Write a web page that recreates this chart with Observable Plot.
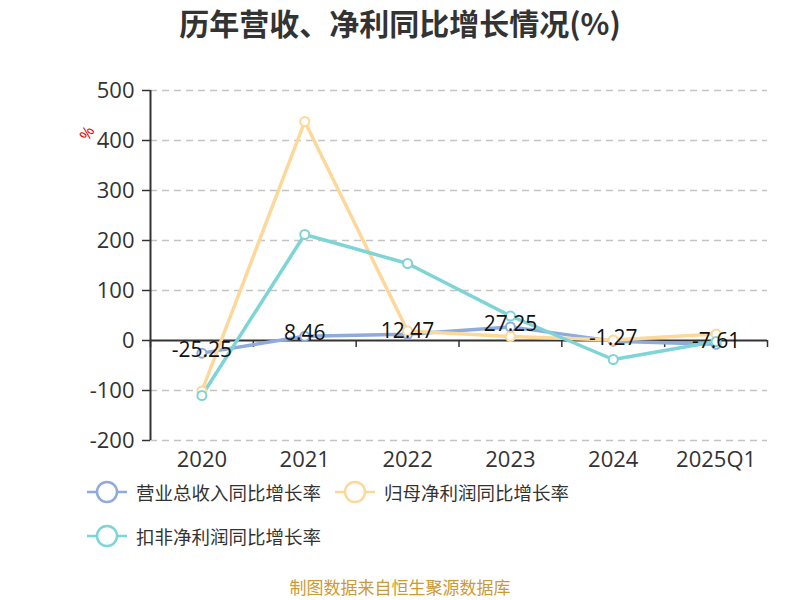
<!DOCTYPE html>
<html>
<head>
<meta charset="utf-8">
<script src="https://cdn.jsdelivr.net/npm/d3@7"></script>
<script src="https://cdn.jsdelivr.net/npm/@observablehq/plot@0.6"></script>
<style>
  body { margin: 0; background: #fff; }
  #wrap { position: relative; width: 800px; height: 600px; font-family: "Open Sans", "Noto Sans CJK SC", sans-serif; }
  #title { position: absolute; left: 0; top: 4px; width: 800px; text-align: center; font-family: "Noto Sans CJK SC", sans-serif; font-weight: bold; font-size: 30px; line-height: 36px; color: #333; }
  #chart { position: absolute; left: 0; top: 50px; }
  .leg { position: absolute; display: flex; align-items: center; font-family: "Noto Sans CJK SC", sans-serif; font-size: 18.5px; color: #333; }
  .leg svg { margin-right: 9px; }
  #caption { position: absolute; left: 0; top: 577px; width: 800px; text-align: center; font-family: "Noto Sans CJK SC", sans-serif; font-size: 17px; line-height: 20px; color: #cc9a33; }
  #unit { position: absolute; left: 80px; top: 122px; color: #e00; font-size: 16px; transform: rotate(-60deg); }
</style>
</head>
<body>
<div id="wrap">
  <div id="title">历年营收、净利同比增长情况(%)</div>
  <div id="chart"></div>
  <div id="unit">%</div>
  <div id="legend"></div>
  <div id="caption">制图数据来自恒生聚源数据库</div>
</div>
<script>
const categories = ["2020", "2021", "2022", "2023", "2024", "2025Q1"];
const revenueGrowth = [-25.25, 8.46, 12.47, 27.25, -1.27, -7.61];
const netProfitGrowth = [-101, 438, 19, 8, 1, 13];
const deductedProfitGrowth = [-110, 212, 154, 49, -38, -2];
const yTicks = [-200, -100, 0, 100, 200, 300, 400, 500];
const seriesNames = ["营业总收入同比增长率", "归母净利润同比增长率", "扣非净利润同比增长率"];
const seriesColors = ["#8eabdc", "#fdd89b", "#7fd4d6"];

const seriesValues = [revenueGrowth, netProfitGrowth, deductedProfitGrowth];
const rows = [];
seriesValues.forEach((vals, s) => vals.forEach((v, i) => rows.push({series: seriesNames[s], i, cat: categories[i], value: v})));
const revenueRows = rows.filter(d => d.series === seriesNames[0]);
const boundaries = d3.range(categories.length + 1).map(i => i - 0.5);

const plot = Plot.plot({
  width: 800,
  height: 430,
  marginLeft: 150,
  marginRight: 33,
  marginTop: 40,
  marginBottom: 40,
  style: {fontFamily: "'Open Sans', sans-serif", color: "#333", background: "transparent"},
  x: {type: "linear", domain: [-0.5, categories.length - 0.5]},
  y: {domain: [-200, 500]},
  color: {domain: seriesNames, range: seriesColors},
  marks: [
    Plot.gridY(yTicks.filter(t => t !== 0), {stroke: "#c4c4c4", strokeOpacity: 1, strokeWidth: 1.5, strokeDasharray: "7,5"}),
    Plot.axisY({ticks: yTicks, tickFormat: d => String(d), tickSize: 8, tickPadding: 8, fontSize: 22, stroke: "#333", strokeWidth: 1.5, fill: "#333", label: null}),
    Plot.axisX({ticks: d3.range(categories.length), tickFormat: i => categories[i], tickSize: 0, tickPadding: 11, fontSize: 22, fill: "#333", label: null}),
    Plot.ruleX([-0.5], {y1: -200, y2: 500, stroke: "#333", strokeWidth: 2}),
    Plot.ruleY([0], {stroke: "#333", strokeWidth: 2}),
    Plot.ruleX(boundaries, {y1: 0, y2: -14, stroke: "#333", strokeWidth: 1.5}),
    ...seriesNames.map((name, s) => Plot.line(rows.filter(d => d.series === name), {x: "i", y: "value", stroke: seriesColors[s], strokeWidth: 3.5})),
    ...seriesNames.map((name, s) => Plot.dot(rows.filter(d => d.series === name), {x: "i", y: "value", r: 4.5, fill: "#fff", stroke: seriesColors[s], strokeWidth: 2})),
    Plot.text(revenueRows, {x: "i", y: "value", text: d => String(d.value), dy: -3, fontSize: 21, fill: "#111", textAnchor: "middle", lineAnchor: "middle"})
  ]
});
document.getElementById("chart").appendChild(plot);

const legendPos = [[87, 478], [335, 478], [87, 522]];
const legend = document.getElementById("legend");
seriesNames.forEach((name, s) => {
  const div = document.createElement("div");
  div.className = "leg";
  div.style.left = legendPos[s][0] + "px";
  div.style.top = legendPos[s][1] + "px";
  div.innerHTML = `<svg width="40" height="28"><line x1="0" y1="14" x2="40" y2="14" stroke="${seriesColors[s]}" stroke-width="2.5"/><circle cx="20" cy="14" r="10" fill="#fff" stroke="${seriesColors[s]}" stroke-width="2.5"/></svg><span>${name}</span>`;
  legend.appendChild(div);
});
</script>
</body>
</html>
